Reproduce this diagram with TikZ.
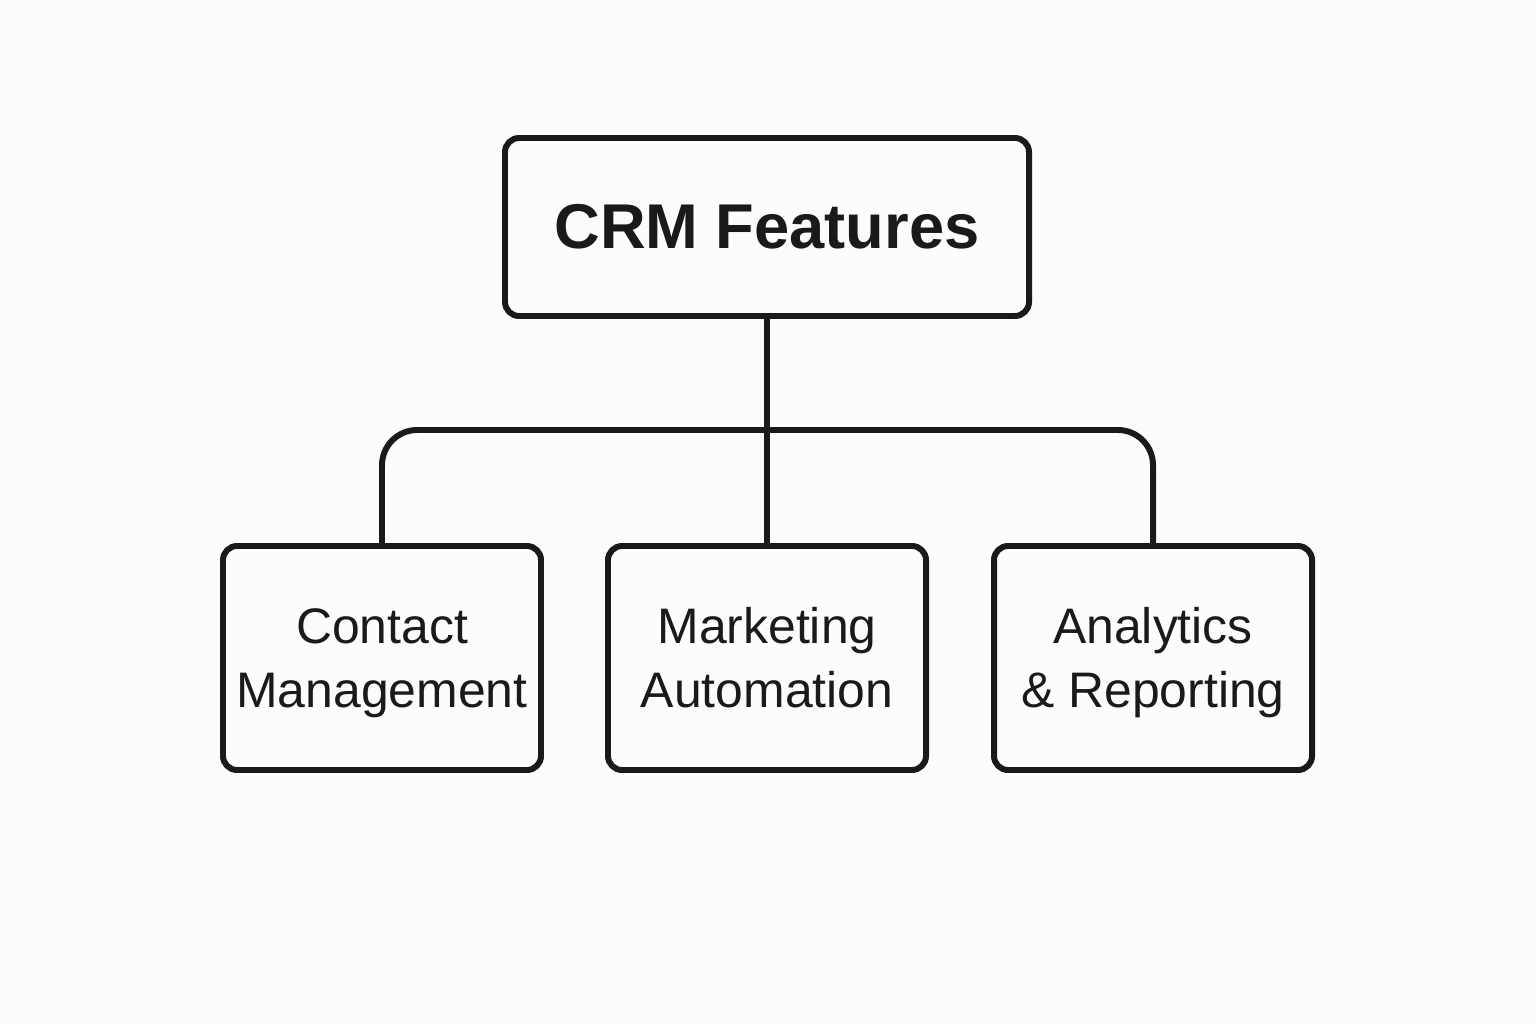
\documentclass[tikz,border=0pt]{standalone}
\usepackage{fontspec}
\setmainfont{Liberation Sans}
\usepackage{xcolor}
\definecolor{paper}{HTML}{FCFCFA}
\definecolor{ink}{HTML}{1A1A1A}
\usepackage{tikz}
\usetikzlibrary{positioning, calc}

% two lines of equal height in a feature box
\newcommand{\featstrut}{\rule[-2.6pt]{0pt}{15.34pt}}
\newcommand{\twolines}[2]{\featstrut #1\\\featstrut #2}

\tikzset{
  rootbox/.style={draw=ink, line width=1.7pt, rounded corners=4pt, fill=paper,
    minimum width=5.24cm, minimum height=1.78cm, align=center,
    font=\fontsize{18}{22}\selectfont\bfseries, text=ink},
  featbox/.style={draw=ink, line width=1.7pt, rounded corners=4pt, fill=paper,
    minimum width=3.18cm, minimum height=2.24cm, align=center,
    font=\fontsize{14.2}{18.2}\selectfont, text=ink},
  link/.style={draw=ink, line width=1.7pt}
}

\begin{document}
\begin{tikzpicture}
  % page
  \fill[paper] (0,0) rectangle (15.36,10.24);
  \useasboundingbox (0,0) rectangle (15.36,10.24);

  % root
  \node[rootbox] (crm) at (7.67, 7.97) {CRM Features};

  % features
  \node[featbox] (contact) at (3.82, 3.66) {\twolines{Contact}{Management}};
  \node[featbox] (marketing) at (7.67, 3.66) {\twolines{Marketing}{Automation}};
  \node[featbox] (analytics) at (11.53, 3.66) {\twolines{Analytics}{\& Reporting}};

  % connectors
  \coordinate (bus) at (7.67, 5.94);
  \draw[link] (crm.south) -- (marketing.north);
  \draw[link, rounded corners=10pt] (contact.north) |- (bus) -| (analytics.north);
\end{tikzpicture}
\end{document}
